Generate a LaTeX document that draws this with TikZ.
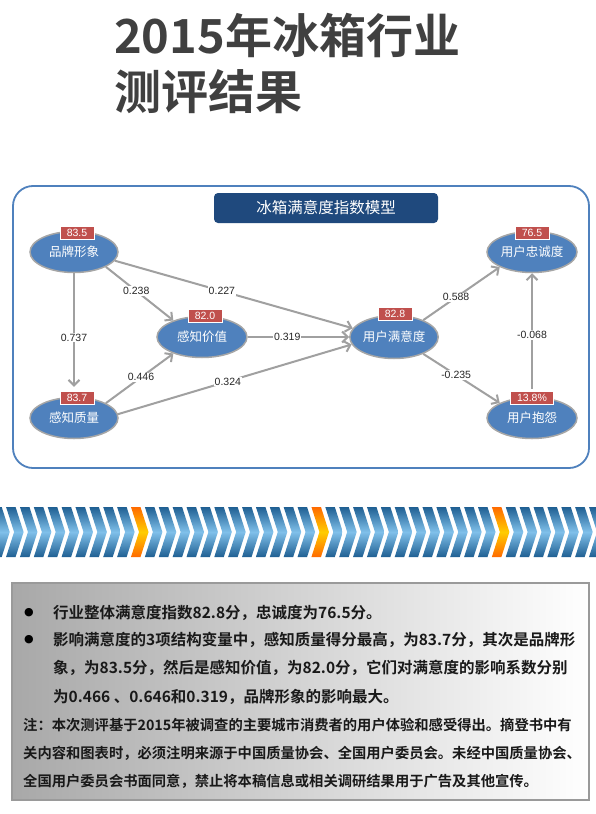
\documentclass[tikz,border=0pt]{standalone}
\usepackage{fontspec}
\usepackage{tikz}
\usetikzlibrary{arrows.meta, shapes.geometric}
\newfontfamily\cjk{Noto Sans CJK SC}[BoldFont={Noto Sans CJK SC Bold}]
\newfontfamily\numfont{Liberation Sans}
\newfontfamily\dotfont{DejaVu Sans}
\definecolor{titlegray}{HTML}{404040}
\definecolor{nodeblue}{HTML}{4F81BD}
\definecolor{nodeedge}{HTML}{A6A6A6}
\definecolor{badgered}{HTML}{C0504D}
\definecolor{barblue}{HTML}{1F497D}
\definecolor{linkgray}{HTML}{A0A0A0}
\definecolor{chevdark}{HTML}{1F5F92}
\definecolor{chevlight}{HTML}{80C0EA}
\definecolor{chevorange}{HTML}{FF6A00}
\definecolor{chevyellow}{HTML}{FFCC00}
\definecolor{panelgray}{HTML}{A8A8A8}
\definecolor{paneledge}{HTML}{9A9A9A}

\begin{document}
\begin{tikzpicture}[x=1pt, y=-1pt,
    factor/.style={ellipse, draw=nodeedge, line width=1.5pt, fill=nodeblue,
      minimum width=88pt, minimum height=41pt, inner sep=0pt, text=white,
      font=\cjk\fontsize{12.5}{14}\selectfont},
    score/.style={rectangle, fill=badgered, draw=white, line width=0.4pt,
      minimum width=34pt, minimum height=13pt, inner sep=0pt, text=white,
      font=\numfont\fontsize{10.5}{12}\selectfont},
    link/.style={draw=linkgray, line width=2pt, -{Straight Barb[length=5.5pt,width=11pt]}},
    coef/.style={fill=white, inner sep=1pt, text=black!85,
      font=\numfont\fontsize{10.5}{12}\selectfont},
    chevron/.style={top color=chevdark, bottom color=chevdark, middle color=chevlight},
    hot/.style={top color=chevorange, bottom color=chevorange, middle color=chevyellow},
    bigline/.style={anchor=west, inner sep=0pt, text=black!90,
      font=\cjk\bfseries\fontsize{15.5}{18}\selectfont},
    noteline/.style={anchor=west, inner sep=0pt, text=black!90,
      font=\cjk\bfseries\fontsize{14.3}{17}\selectfont}]
  \useasboundingbox[fill=white] (0,0) rectangle (596,814);

  % title
  \node[anchor=base west, inner sep=0pt, text=titlegray, font=\cjk\bfseries\fontsize{47}{56}\selectfont]
    (title1) at (114,53) {2015年冰箱行业};
  \node[anchor=base west, inner sep=0pt, text=titlegray, font=\cjk\bfseries\fontsize{47}{56}\selectfont]
    (title2) at (114,109) {测评结果};

  % model frame
  \draw[draw=nodeblue, line width=1.8pt, rounded corners=20pt] (13,186) rectangle (589,468);
  \node[fill=barblue, rounded corners=4pt, minimum width=224pt, minimum height=30pt, inner sep=0pt,
    text=white, font=\cjk\fontsize{15.5}{17}\selectfont] (modeltitle) at (326,208) {冰箱满意度指数模型};

  % factors
  \node[factor] (brand) at (74,252) {品牌形象};
  \node[factor, minimum width=90pt] (value) at (202,337) {感知价值};
  \node[factor] (quality) at (74,418) {感知质量};
  \node[factor, minimum height=43pt] (sat) at (394,337) {用户满意度};
  \node[factor, minimum width=90pt] (loyal) at (532,252) {用户忠诚度};
  \node[factor, minimum width=90pt] (complaint) at (532,418) {用户抱怨};

  % paths
  \draw[link] (brand.-25) -- node[coef, pos=0.45] {0.238} (value.150);
  \draw[link] (brand.-12) -- node[coef, pos=0.45] {0.227} (sat.168);
  \draw[link, shorten >=10pt] (brand) -- node[coef, pos=0.52] {0.737} (quality);
  \draw[link] (quality.25) -- node[coef, pos=0.52] {0.446} (value.210);
  \draw[link] (quality.5) -- node[coef, pos=0.47] {0.324} (sat.190);
  \draw[link] (value) -- node[coef, pos=0.39] {0.319} (sat);
  \draw[link] (sat.30) -- node[coef, pos=0.43] {0.588} (loyal.205);
  \draw[link] (sat.-30) -- node[coef, pos=0.43] {-0.235} (complaint.155);
  \draw[link, shorten <=8pt] (complaint) -- node[coef, pos=0.5] {-0.068} (loyal);

  % scores
  \node[score] (brand-s) at (77,233) {83.5};
  \node[score] (value-s) at (205,316) {82.0};
  \node[score] (quality-s) at (77,398) {83.7};
  \node[score] (sat-s) at (395,314) {82.8};
  \node[score] (loyal-s) at (532,233) {76.5};
  \node[score, minimum width=43pt] (complaint-s) at (532,398) {13.8\%};

  % chevron band
  \begin{scope}
    \clip (0,495) rectangle (596,570);
    \foreach \k in {-10,...,33}{
      \pgfmathsetmacro\cx{131+13.88*\k}
      \pgfmathtruncatemacro\ishot{mod(\k+13,13)==0 ? 1 : 0}
      \ifnum\ishot=1 \def\chevstyle{hot}\else\def\chevstyle{chevron}\fi
      \path[\chevstyle] (\cx,507) -- ({\cx+9.5},507) -- ({\cx+17.5},532)
        -- ({\cx+9.5},557) -- (\cx,557) -- ({\cx+8},532) -- cycle;
    }
  \end{scope}

  % summary panel
  \draw[draw=paneledge, line width=1.5pt, left color=panelgray, right color=white]
    (12,583) rectangle (589,800);
  \node[inner sep=0pt, font=\dotfont\fontsize{11}{12}\selectfont] (dot1) at (29,613) {●};
  \node[inner sep=0pt, font=\dotfont\fontsize{11}{12}\selectfont] (dot2) at (29,640) {●};
  \node[bigline] (line1) at (53,613) {行业整体满意度指数82.8分，忠诚度为76.5分。};
  \node[bigline] (line2) at (53,640) {影响满意度的3项结构变量中，感知质量得分最高，为83.7分，其次是品牌形};
  \node[bigline] (line3) at (53,668) {象，为83.5分，然后是感知价值，为82.0分，它们对满意度的影响系数分别};
  \node[bigline] (line4) at (53,697) {为0.466 、0.646和0.319，品牌形象的影响最大。};
  \node[noteline] (note1) at (23,725) {注：本次测评基于2015年被调查的主要城市消费者的用户体验和感受得出。摘登书中有};
  \node[noteline] (note2) at (23,753) {关内容和图表时，必须注明来源于中国质量协会、全国用户委员会。未经中国质量协会、};
  \node[noteline] (note3) at (23,781) {全国用户委员会书面同意，禁止将本稿信息或相关调研结果用于广告及其他宣传。};
\end{tikzpicture}
\end{document}
